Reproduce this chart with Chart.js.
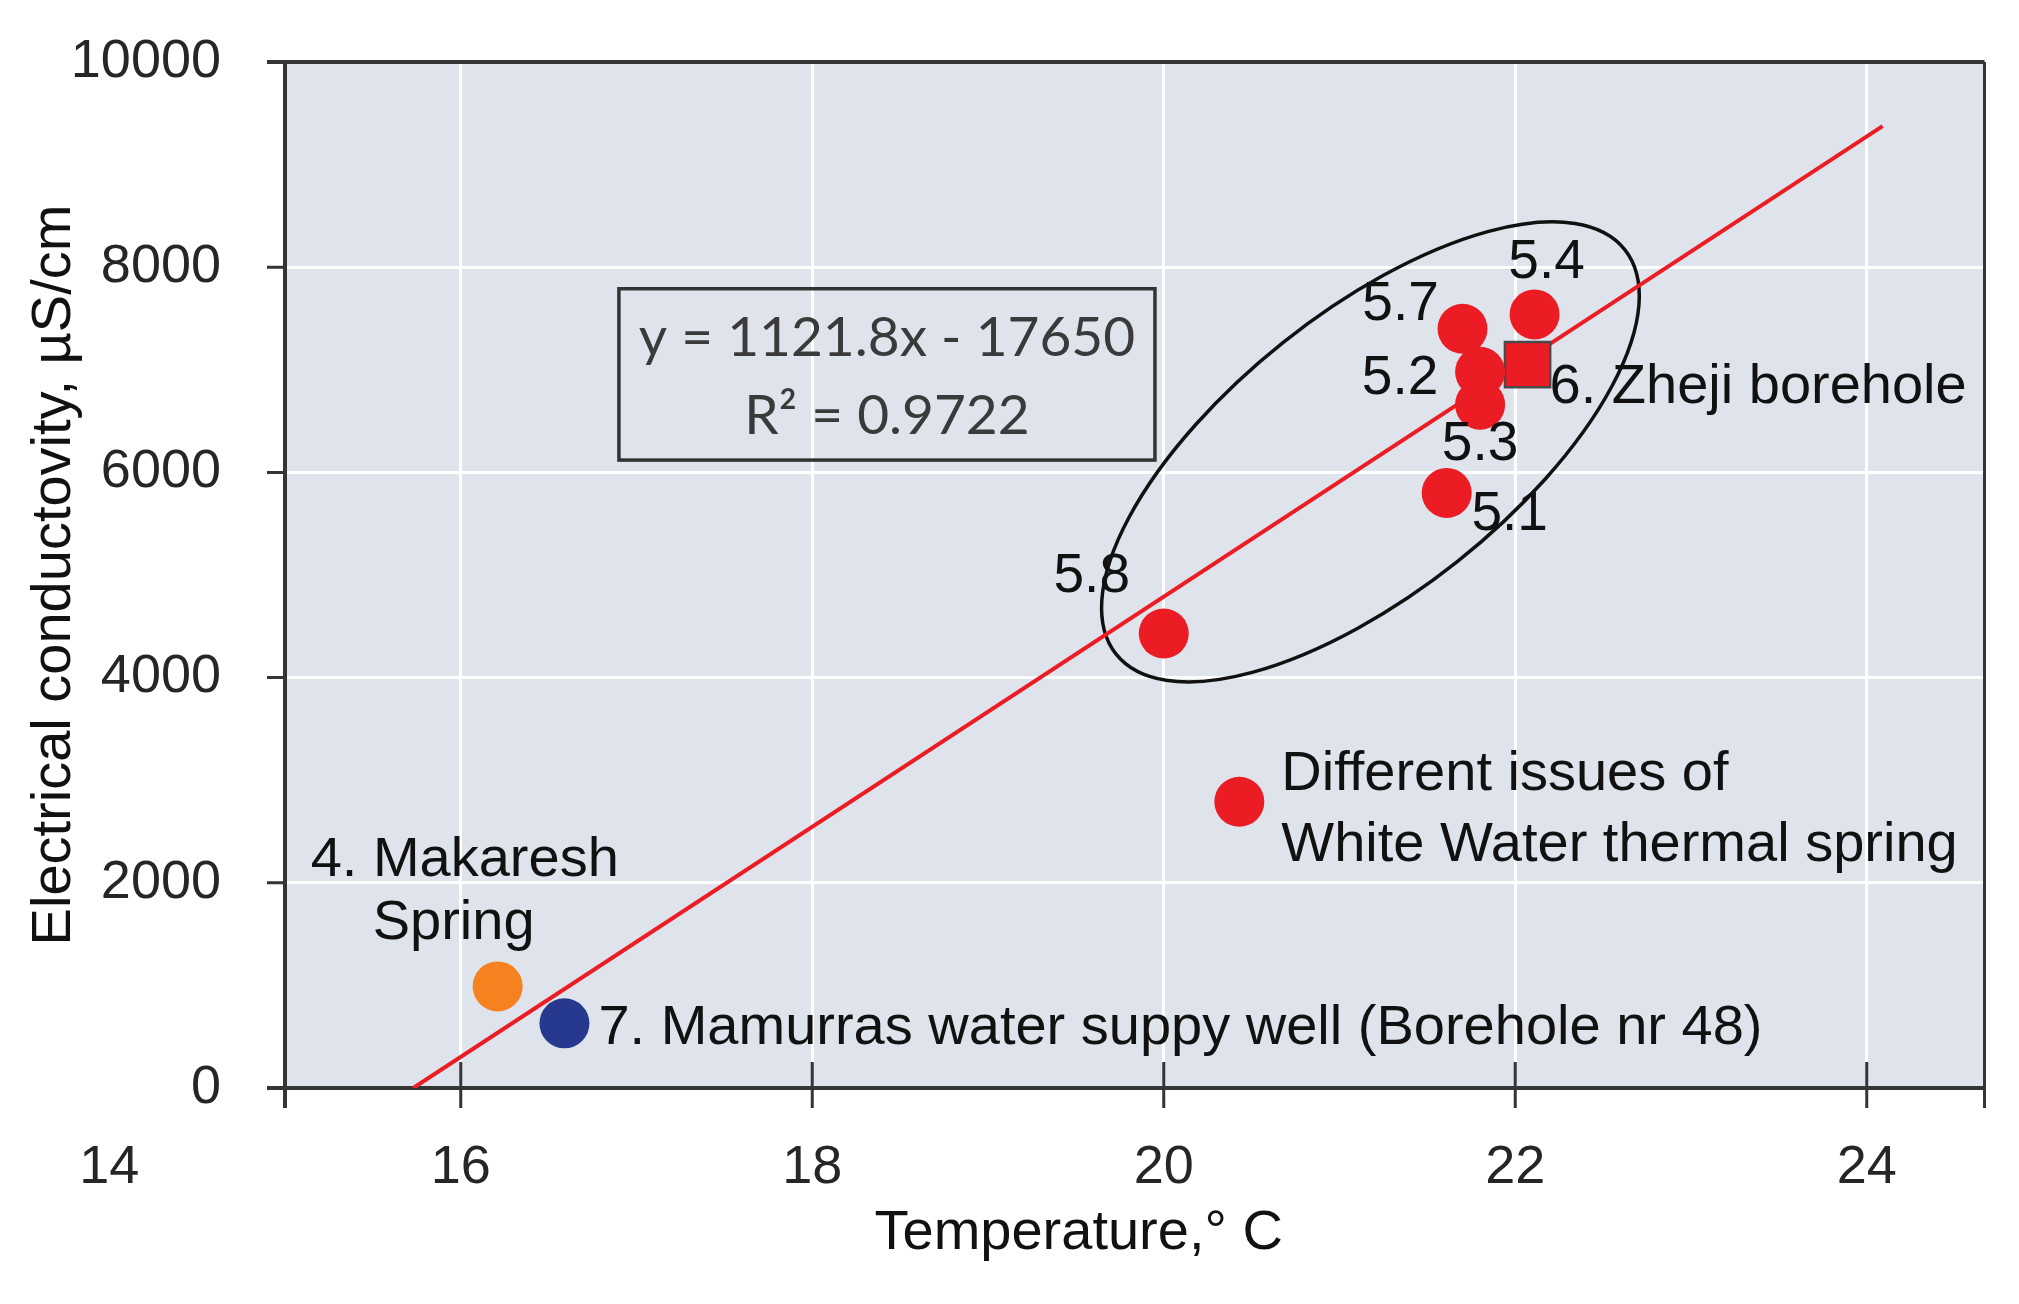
<!DOCTYPE html>
<html>
<head>
<meta charset="utf-8">
<script src="https://cdn.jsdelivr.net/npm/chart.js@4.4.0/dist/chart.umd.min.js"></script>
<style>
html,body{margin:0;padding:0;background:#ffffff;}
#wrap{width:2019px;height:1304px;}
</style>
</head>
<body>
<div id="wrap"><canvas id="c" width="2019" height="1304"></canvas></div>
<script>
// ---------------- data ----------------
const whiteWaterLabels = ['5.8', '5.1', '5.3', '5.2', '5.7', '5.4'];
const whiteWaterTemp   = [20.00, 21.61, 21.80, 21.80, 21.70, 22.11];
const whiteWaterEC     = [4430, 5800, 6660, 6980, 7400, 7540];
const otherIssueTemp   = [20.43];
const otherIssueEC     = [2790];
const zhejiTemp        = [22.07];
const zhejiEC          = [7050];
const makareshTemp     = [16.21];
const makareshEC       = [990];
const mamurrasTemp     = [16.59];
const mamurrasEC       = [630];
const trendTemp        = [15.73, 24.09];
const trendEC          = [0, 9375];
const xTickValues      = [16, 18, 20, 22, 24];
const xOuterTickValues = [14];
const yTickValues      = [0, 2000, 4000, 6000, 8000, 10000];
const xRange           = [15, 24.67];
const yRange           = [0, 10000];
const equationLines    = ['y = 1121.8x - 17650', 'R\u00B2 = 0.9722'];
const xTitle           = 'Temperature,\u00B0 C';
const yTitle           = 'Electrical conductovity, \u00B5S/cm';
const otherIssueText   = ['Different issues of', 'White Water thermal spring'];
const zhejiText        = '6. Zheji borehole';
const makareshText     = ['4. Makaresh', 'Spring'];
const mamurrasText     = '7. Mamurras water suppy well (Borehole nr 48)';

// ---------------- styles / layout ----------------
const FONT = "'Liberation Sans', Arial, sans-serif";
const EQ_FONT = "Lato, 'Open Sans', sans-serif";
const RED = '#EC1C24';
const ORANGE = '#F5821F';
const BLUE = '#27388F';
const PLOT_BG = '#DFE4EC';
const AXIS = '#353535';
const TEXT = '#111111';

// offsets (px) of each White Water label from its marker
const wwLabelOffsets = [
  {dx: -72, dy: -57}, {dx: 63, dy: 22}, {dx: 0, dy: 40},
  {dx: -80, dy: 7}, {dx: -62, dy: -24}, {dx: 12, dy: -52}
];
const ellipseSpec = {cx: 21.176, cy: 6200, a: 325, b: 140, angleDeg: 38.5};
const eqBoxSpec = {x0: 16.9, y0: 7790, x1: 19.95, y1: 6120};

const toPts = (xs, ys) => xs.map((x, i) => ({x: x, y: ys[i]}));

const decor = {
  id: 'decor',
  beforeDraw(chart) {
    const {ctx, chartArea: a} = chart;
    ctx.save();
    ctx.fillStyle = PLOT_BG;
    ctx.fillRect(a.left, a.top, a.right - a.left, a.bottom - a.top);
    ctx.restore();
  },
  beforeDatasetsDraw(chart) {
    const {ctx, chartArea: a, scales: {x: xs, y: ys}} = chart;
    ctx.save();
    ctx.strokeStyle = AXIS;
    ctx.lineCap = 'butt';
    // frame
    ctx.lineWidth = 4;
    ctx.beginPath();
    ctx.moveTo(a.left - 18, a.top); ctx.lineTo(a.right, a.top);
    ctx.moveTo(a.left, a.top); ctx.lineTo(a.left, a.bottom + 20);
    ctx.moveTo(a.left - 18, a.bottom); ctx.lineTo(a.right, a.bottom);
    ctx.stroke();
    ctx.lineWidth = 3;
    ctx.beginPath();
    ctx.moveTo(a.right, a.top); ctx.lineTo(a.right, a.bottom + 20);
    ctx.stroke();
    // y ticks
    ctx.lineWidth = 3;
    ctx.beginPath();
    yTickValues.forEach(v => {
      const y = ys.getPixelForValue(v);
      ctx.moveTo(a.left - 18, y); ctx.lineTo(a.left, y);
    });
    // x ticks (crossing)
    xTickValues.forEach(v => {
      const x = xs.getPixelForValue(v);
      ctx.moveTo(x, a.bottom - 26); ctx.lineTo(x, a.bottom + 20);
    });
    ctx.stroke();
    // ellipse
    const ecx = xs.getPixelForValue(ellipseSpec.cx);
    const ecy = ys.getPixelForValue(ellipseSpec.cy);
    ctx.strokeStyle = '#111111';
    ctx.lineWidth = 3.5;
    ctx.beginPath();
    ctx.ellipse(ecx, ecy, ellipseSpec.a, ellipseSpec.b, -ellipseSpec.angleDeg * Math.PI / 180, 0, Math.PI * 2);
    ctx.stroke();
    // equation box
    const bx0 = xs.getPixelForValue(eqBoxSpec.x0), by0 = ys.getPixelForValue(eqBoxSpec.y0);
    const bx1 = xs.getPixelForValue(eqBoxSpec.x1), by1 = ys.getPixelForValue(eqBoxSpec.y1);
    ctx.strokeStyle = '#333333';
    ctx.lineWidth = 3.5;
    ctx.strokeRect(bx0, by0, bx1 - bx0, by1 - by0);
    ctx.fillStyle = '#3a3a3a';
    ctx.font = '55px ' + EQ_FONT;
    ctx.textAlign = 'center';
    ctx.textBaseline = 'middle';
    const bcx = (bx0 + bx1) / 2;
    ctx.fillText(equationLines[0], bcx, by0 + 50);
    ctx.fillText(equationLines[1], bcx, by0 + 128);
    ctx.restore();
  },
  afterDatasetsDraw(chart) {
    const {ctx, chartArea: a, scales: {x: xs, y: ys}} = chart;
    ctx.save();
    ctx.fillStyle = TEXT;
    ctx.font = '55px ' + FONT;
    ctx.textBaseline = 'middle';
    ctx.textAlign = 'center';
    whiteWaterLabels.forEach((t, i) => {
      const px = xs.getPixelForValue(whiteWaterTemp[i]);
      const py = ys.getPixelForValue(whiteWaterEC[i]);
      ctx.fillText(t, px + wwLabelOffsets[i].dx, py + wwLabelOffsets[i].dy);
    });
    ctx.font = '56px ' + FONT;
    ctx.textAlign = 'left';
    // Zheji
    let px = xs.getPixelForValue(zhejiTemp[0]), py = ys.getPixelForValue(zhejiEC[0]);
    ctx.fillText(zhejiText, px + 22, py + 23);
    // other issues
    px = xs.getPixelForValue(otherIssueTemp[0]); py = ys.getPixelForValue(otherIssueEC[0]);
    ctx.fillText(otherIssueText[0], px + 42, py - 27);
    ctx.fillText(otherIssueText[1], px + 42, py + 44);
    // Makaresh
    px = xs.getPixelForValue(makareshTemp[0]); py = ys.getPixelForValue(makareshEC[0]);
    ctx.fillText(makareshText[0], px - 187, py - 126);
    ctx.fillText(makareshText[1], px - 125, py - 63);
    // Mamurras
    px = xs.getPixelForValue(mamurrasTemp[0]); py = ys.getPixelForValue(mamurrasEC[0]);
    ctx.fillText(mamurrasText, px + 34, py + 5);
    ctx.restore();
  },
  afterDraw(chart) {
    const {ctx, chartArea: a, scales: {x: xs}} = chart;
    ctx.save();
    ctx.fillStyle = '#262626';
    ctx.font = '54px ' + FONT;
    ctx.textAlign = 'center';
    ctx.textBaseline = 'middle';
    xOuterTickValues.forEach(v => {
      ctx.fillText(String(v), xs.getPixelForValue(v), a.bottom + 48 + 54 * 1.2 / 2);
    });
    ctx.fillStyle = TEXT;
    ctx.font = '56px ' + FONT;
    ctx.fillText(xTitle, a.left + 0.467 * (a.right - a.left), a.bottom + 146);
    ctx.restore();
  }
};

const pointBase = {borderWidth: 0, pointRadius: 25, pointHoverRadius: 25, order: 1};

new Chart(document.getElementById('c').getContext('2d'), {
  type: 'scatter',
  data: {
    datasets: [
      Object.assign({label: 'White Water thermal spring', data: toPts(whiteWaterTemp, whiteWaterEC),
        backgroundColor: RED, borderColor: RED}, pointBase),
      Object.assign({label: 'Different issues', data: toPts(otherIssueTemp, otherIssueEC),
        backgroundColor: RED, borderColor: RED}, pointBase),
      {label: '6. Zheji borehole', data: toPts(zhejiTemp, zhejiEC), pointStyle: 'rect',
        pointRadius: 32, pointHoverRadius: 32, backgroundColor: RED, borderColor: '#4a4a4a', borderWidth: 2.5, order: 1},
      Object.assign({label: '4. Makaresh Spring', data: toPts(makareshTemp, makareshEC),
        backgroundColor: ORANGE, borderColor: ORANGE}, pointBase),
      Object.assign({label: '7. Mamurras', data: toPts(mamurrasTemp, mamurrasEC),
        backgroundColor: BLUE, borderColor: BLUE}, pointBase),
      {type: 'line', label: 'Linear trend', data: toPts(trendTemp, trendEC), borderColor: RED,
        borderWidth: 4, pointRadius: 0, showLine: true, fill: false, order: 2}
    ]
  },
  options: {
    responsive: false,
    animation: false,
    devicePixelRatio: 1,
    layout: {padding: {left: 0, right: 22, top: 62, bottom: 0}},
    plugins: {legend: {display: false}, tooltip: {enabled: false}},
    scales: {
      x: {
        type: 'linear', min: xRange[0], max: xRange[1],
        afterBuildTicks: s => { s.ticks = xTickValues.map(v => ({value: v})); },
        afterFit: s => { s.height = 216; s.paddingLeft = 0; s.paddingRight = 0; },
        ticks: {font: {family: FONT, size: 54}, color: '#262626', padding: 48, maxRotation: 0, autoSkip: false,
          callback: v => String(v)},
        grid: {color: '#ffffff', lineWidth: 3, drawTicks: false},
        border: {display: false}
      },
      y: {
        type: 'linear', min: yRange[0], max: yRange[1],
        afterBuildTicks: s => { s.ticks = yTickValues.map(v => ({value: v})); },
        afterFit: s => { s.width = 285; s.paddingTop = 0; s.paddingBottom = 0; },
        ticks: {font: {family: FONT, size: 54}, color: '#262626', padding: 64, callback: v => String(v)},
        grid: {color: '#ffffff', lineWidth: 3, drawTicks: false},
        border: {display: false},
        title: {display: true, text: yTitle, font: {family: FONT, size: 56}, color: TEXT, padding: {top: 21, bottom: 0}}
      }
    }
  },
  plugins: [decor]
});
</script>
</body>
</html>
